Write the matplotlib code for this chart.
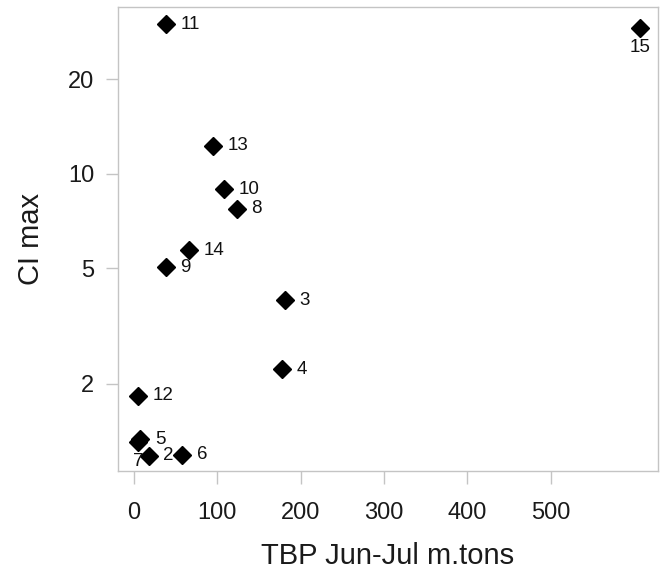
import matplotlib
matplotlib.use("Agg")
import matplotlib.pyplot as plt
from matplotlib.ticker import NullLocator, FixedLocator, FixedFormatter

labels = ["2", "3", "4", "5", "6", "7", "8", "9", "10", "11", "12", "13", "14", "15"]
tbp = [17.6, 181.3, 178.2, 7.6, 57.8, 4.8, 123.2, 38.5, 107.9, 38.5, 4.8, 95.1, 66.6, 607.5]
ci_max = [1.26, 3.94, 2.38, 1.423, 1.27, 1.39, 7.73, 5.03, 8.91, 29.9, 1.957, 12.25, 5.69, 29.06]
below = ["7", "15"]

ytick_pos = [2.14, 5, 10, 20]
ytick_labels = ["2", "5", "10", "20"]
xticks = [0, 100, 200, 300, 400, 500]

plt.rcParams['font.family'] = ['Liberation Sans', 'DejaVu Sans']

fig = plt.figure(figsize=(6.67, 5.72), dpi=100)
ax = fig.add_axes([118/667, 1 - 471/572, (658-118)/667, (471-7)/572])

ax.set_yscale('log')
ax.plot(tbp, ci_max, linestyle='none', marker='D', markersize=9.5, color='black')

for lab, x, y in zip(labels, tbp, ci_max):
    if lab in below:
        ax.annotate(lab, (x, y), xytext=(0, -13.8), textcoords='offset points',
                    ha='center', va='center', fontsize=13.5, color='#111111')
    else:
        ax.annotate(lab, (x, y), xytext=(10.5, 0), textcoords='offset points',
                    ha='left', va='center', fontsize=13.5, color='#111111')

ax.set_xlim(-19, 629)
ax.set_ylim(1.127, 33.97)

ax.set_xticks(xticks)
ax.set_xticklabels([str(t) for t in xticks])
ax.yaxis.set_major_locator(FixedLocator(ytick_pos))
ax.yaxis.set_major_formatter(FixedFormatter(ytick_labels))
ax.yaxis.set_minor_locator(NullLocator())

gray = '#c4c4c4'
for s in ax.spines.values():
    s.set_color(gray)
    s.set_linewidth(1.0)
ax.tick_params(axis='both', which='major', length=9, width=1.0, color=gray,
               labelsize=17, labelcolor='#1a1a1a', direction='out')
ax.tick_params(axis='x', pad=13)
ax.tick_params(axis='y', pad=8)

ax.set_xlabel("TBP Jun-Jul m.tons", fontsize=21, color='#1a1a1a', labelpad=13)
ax.set_ylabel("CI max", fontsize=21, color='#1a1a1a', labelpad=17)

fig.savefig("out.png", dpi=100)
